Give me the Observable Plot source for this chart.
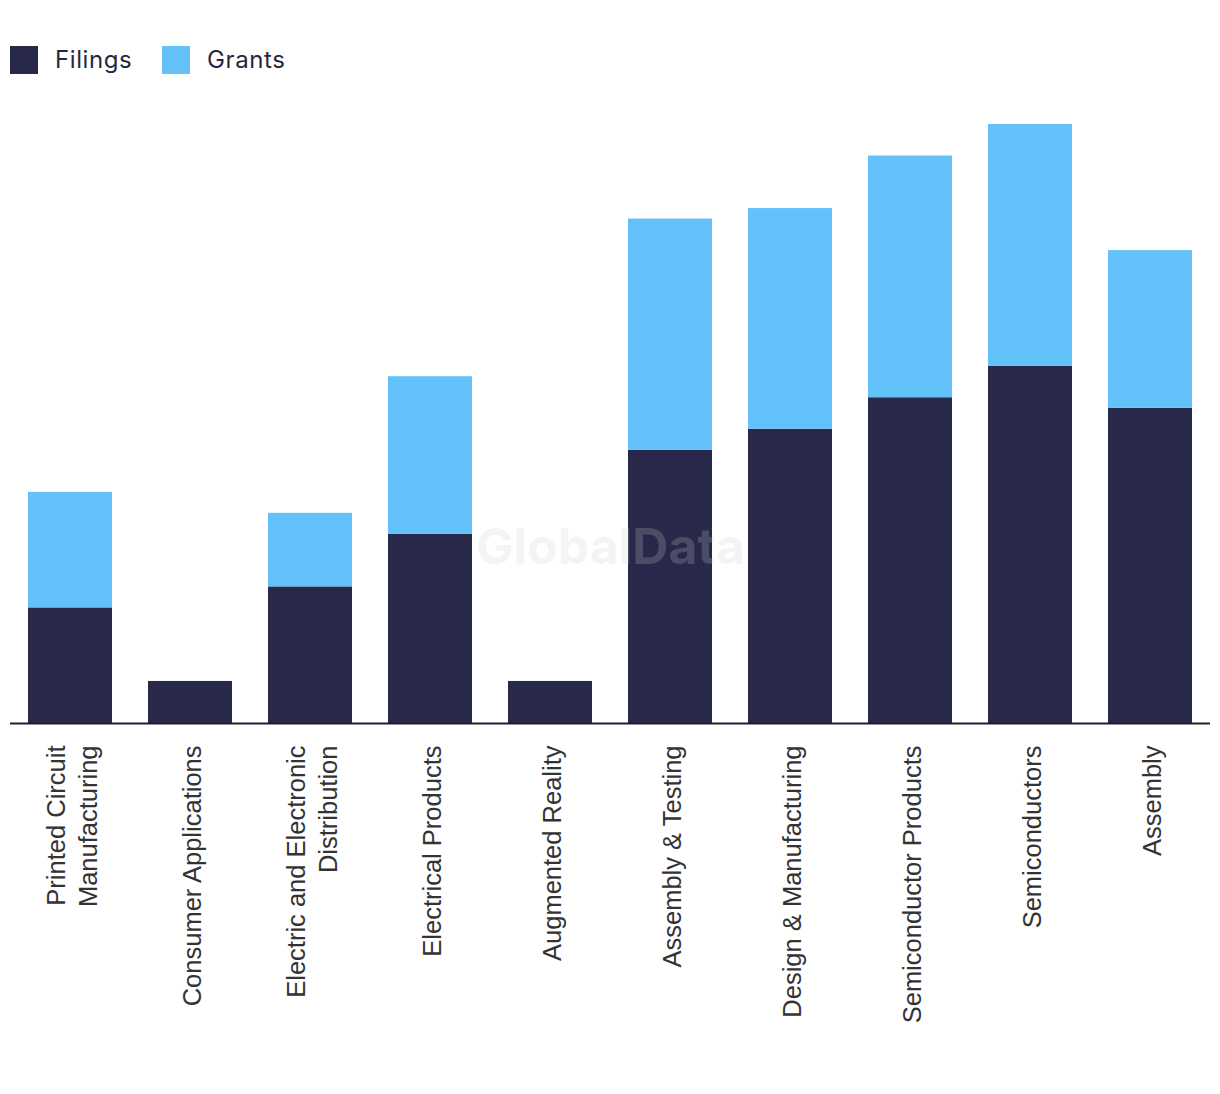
<!DOCTYPE html>
<html>
<head>
<meta charset="utf-8">
<script src="https://cdn.jsdelivr.net/npm/d3@7"></script>
<script src="https://cdn.jsdelivr.net/npm/@observablehq/plot@0.6"></script>
<style>
  html, body { margin: 0; padding: 0; background: #fff; }
  #legend { position: relative; height: 100px; font-family: Inter, "Noto Sans", sans-serif; font-size: 24px; letter-spacing: 0.6px; color: #26273f; }
  .item { position: absolute; top: 45px; display: flex; align-items: center; }
  .sw { width: 28px; height: 28px; margin-right: 17px; }
  #chart svg { display: block; }
</style>
</head>
<body>
<div id="legend"></div>
<div id="chart"></div>
<script>
const categories = [
  "Printed Circuit\nManufacturing",
  "Consumer Applications",
  "Electric and Electronic\nDistribution",
  "Electrical Products",
  "Augmented Reality",
  "Assembly & Testing",
  "Design & Manufacturing",
  "Semiconductor Products",
  "Semiconductors",
  "Assembly"
];
const filings = [11, 4, 13, 18, 4, 26, 28, 31, 34, 30];
const grants  = [11, 0, 7, 15, 0, 22, 21, 23, 23, 15];
const seriesNames = ["Filings", "Grants"];
const seriesColors = ["#27284a", "#62c1f8"];

// legend
const legend = document.getElementById("legend");
const legendX = [10, 162];
seriesNames.forEach((s, i) => {
  const it = document.createElement("div");
  it.className = "item";
  it.style.left = legendX[i] + "px";
  it.innerHTML = `<span class="sw" style="background:${seriesColors[i]}"></span><span>${s}</span>`;
  legend.appendChild(it);
});

const rows = [];
categories.forEach((c, i) => {
  rows.push({category: c, series: "Filings", value: filings[i]});
  rows.push({category: c, series: "Grants", value: grants[i]});
});
const maxTotal = d3.max(categories.map((c, i) => filings[i] + grants[i]));

const chart = Plot.plot({
  width: 1220,
  height: 994,
  marginLeft: 10,
  marginRight: 10,
  marginTop: 24,
  marginBottom: 371,
  x: {domain: categories, paddingInner: 0.3, paddingOuter: 0.15, axis: null},
  y: {domain: [0, maxTotal], axis: null},
  color: {domain: seriesNames, range: seriesColors},
  marks: [
    Plot.barY(rows, {x: "category", y: "value", fill: "series"}),
    Plot.text(["GlobalData"], {frameAnchor: "middle", dy: 124, text: d => d, fontSize: 50, fontWeight: "bold", fill: "#cccccc", fillOpacity: 0.22, fontFamily: "Inter, sans-serif"}),
    Plot.ruleY([0], {stroke: "#1e1f33", strokeWidth: 2}),
    Plot.text(categories, {
      x: d => d, text: d => d, frameAnchor: "bottom", dy: 22,
      rotate: -90, textAnchor: "end", lineAnchor: "middle", lineHeight: 1.25,
      fontSize: 25.5, fill: "#333", fontFamily: "'Liberation Sans', Arial, sans-serif"
    })
  ]
});
document.getElementById("chart").appendChild(chart);
</script>
</body>
</html>
